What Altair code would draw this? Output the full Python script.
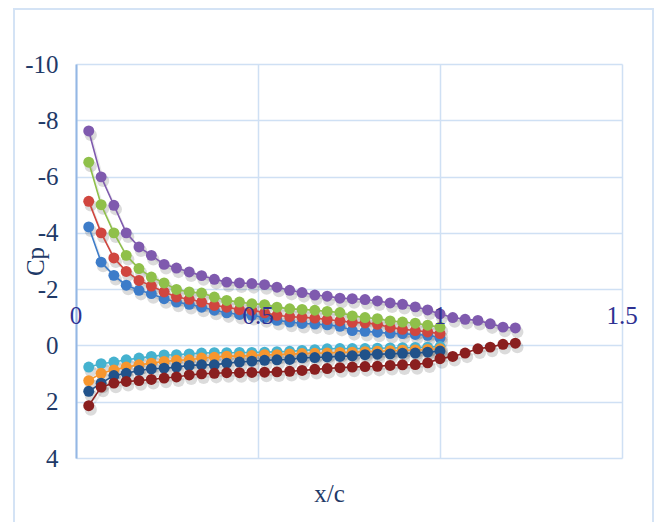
import altair as alt
import pandas as pd

# ---- data ----
x_pos = [0.035, 0.069, 0.104, 0.138, 0.173, 0.207, 0.242, 0.276, 0.311, 0.345,
         0.380, 0.414, 0.449, 0.483, 0.518, 0.552, 0.587, 0.621, 0.656, 0.690,
         0.725, 0.759, 0.794, 0.828, 0.863, 0.897, 0.932, 0.966, 1.000, 1.035,
         1.069, 1.104, 1.138, 1.173, 1.207]

cp_blue = [-4.21, -2.96, -2.49, -2.14, -1.96, -1.84, -1.66, -1.54, -1.46, -1.36,
           -1.25, -1.16, -1.10, -1.07, -0.99, -0.89, -0.83, -0.78, -0.76, -0.73,
           -0.68, -0.53, -0.50, -0.47, -0.43, -0.42, -0.39, -0.36, -0.27]
cp_red = [-5.12, -4.00, -3.11, -2.63, -2.31, -2.11, -1.90, -1.72, -1.64, -1.54,
          -1.42, -1.36, -1.27, -1.25, -1.16, -1.07, -1.02, -1.00, -0.97, -0.92,
          -0.87, -0.82, -0.80, -0.75, -0.64, -0.57, -0.53, -0.48, -0.42]
cp_green = [-6.51, -5.00, -4.00, -3.20, -2.73, -2.43, -2.22, -1.99, -1.90, -1.86,
            -1.72, -1.60, -1.54, -1.48, -1.45, -1.36, -1.30, -1.28, -1.25, -1.21,
            -1.17, -1.05, -0.99, -0.95, -0.87, -0.83, -0.79, -0.72, -0.65]
cp_purple = [-7.62, -5.99, -4.98, -4.00, -3.50, -3.20, -2.88, -2.75, -2.61, -2.48,
             -2.35, -2.25, -2.22, -2.20, -2.16, -2.07, -1.96, -1.88, -1.79, -1.75,
             -1.68, -1.66, -1.63, -1.58, -1.51, -1.46, -1.37, -1.26, -1.12, -0.99,
             -0.93, -0.89, -0.77, -0.65, -0.62]
cp_cyan = [0.77, 0.65, 0.59, 0.51, 0.45, 0.39, 0.34, 0.33, 0.30, 0.27,
           0.26, 0.26, 0.25, 0.25, 0.24, 0.22, 0.21, 0.18, 0.15, 0.12,
           0.11, 0.11, 0.11, 0.10, 0.09, 0.08, 0.07, 0.06, 0.04]
cp_orange = [1.25, 0.99, 0.87, 0.77, 0.69, 0.63, 0.57, 0.53, 0.51, 0.45,
             0.42, 0.38, 0.38, 0.36, 0.33, 0.33, 0.30, 0.29, 0.28, 0.27,
             0.25, 0.24, 0.22, 0.21, 0.19, 0.17, 0.16, 0.14, 0.12]
cp_navy = [1.63, 1.34, 1.07, 0.99, 0.89, 0.83, 0.81, 0.77, 0.71, 0.69,
           0.69, 0.63, 0.59, 0.56, 0.53, 0.51, 0.50, 0.44, 0.43, 0.41,
           0.39, 0.37, 0.33, 0.31, 0.30, 0.28, 0.27, 0.24, 0.20]
cp_maroon = [2.14, 1.48, 1.34, 1.28, 1.25, 1.21, 1.16, 1.12, 1.05, 1.01,
             0.99, 0.97, 0.97, 0.96, 0.95, 0.94, 0.92, 0.89, 0.85, 0.82,
             0.79, 0.77, 0.75, 0.74, 0.71, 0.69, 0.68, 0.62, 0.47, 0.39,
             0.27, 0.12, 0.06, -0.04, -0.08]

series_names = ["s1", "s2", "s3", "s4", "s5", "s6", "s7", "s8"]
series_values = [cp_blue, cp_red, cp_green, cp_purple, cp_cyan, cp_orange, cp_navy, cp_maroon]
series_colors = ["#3D7CC9", "#D0463F", "#8FC04A", "#7F5AAE",
                 "#45B2CF", "#F7962E", "#21528A", "#8A1F1F"]

x_ticks = [0, 0.5, 1, 1.5]
x_tick_labels = ["0", "0.5", "1", "1.5"]
y_ticks = [-10, -8, -6, -4, -2, 0, 2, 4]

rows = []
for k, (name, vals) in enumerate(zip(series_names, series_values)):
    for i, v in enumerate(vals):
        rows.append({"series": name, "x": x_pos[i], "cp": v, "ord": k * 100 + i})
df = pd.DataFrame(rows)
df_lab = pd.DataFrame({"x": x_ticks, "t": x_tick_labels})
df_frame = pd.DataFrame({"a": [0]})

FONT = "'Liberation Serif', 'Times New Roman', Times, serif"
x_scale = alt.Scale(domain=[0, 1.5], nice=False, zero=False)
y_scale = alt.Scale(domain=[-10, 4], reverse=True, nice=False, zero=False)
color = alt.Color("series:N", scale=alt.Scale(domain=series_names, range=series_colors), legend=None)

x_axis = alt.Axis(values=x_ticks, labels=False, ticks=False, domain=False, grid=True,
                  title="x/c", titleX=253, titleY=35, titleBaseline="middle")
x_enc = alt.X("x:Q", scale=x_scale, axis=x_axis)
y_enc = alt.Y("cp:Q", scale=y_scale,
              axis=alt.Axis(values=y_ticks, labelExpr="datum.value + ''", ticks=False,
                            labelPadding=18, domain=True, domainColor="#94B7E4", domainWidth=2,
                            title="Cp", titleX=-41, titleY=197, titleBaseline="middle",
                            titleAngle=270))

frame = alt.Chart(df_frame).mark_rect(fill="transparent", stroke="#D4E3F5", strokeWidth=2).encode(
    x=alt.value(-62), x2=alt.value(577), y=alt.value(-55), y2=alt.value(470))

line_shadow = alt.Chart(df).mark_line(color="#000000", opacity=0.08, strokeWidth=2,
                                      xOffset=2, yOffset=3).encode(
    x=x_enc, y=y_enc, detail="series:N")
pt_shadow = alt.Chart(df).mark_circle(color="#000000", opacity=0.14, size=150,
                                      xOffset=2, yOffset=4).encode(
    x=x_enc, y=y_enc, detail="series:N")
lines = alt.Chart(df).mark_line(strokeWidth=1.6).encode(
    x=x_enc, y=y_enc, color=color, order="ord:Q")
points = alt.Chart(df).mark_circle(size=120, opacity=1).encode(
    x=x_enc, y=y_enc, color=color, order="ord:Q")
labels = alt.Chart(df_lab).mark_text(font=FONT, fontSize=25, color="#2E3192",
                                     baseline="middle", align="center").encode(
    x=x_enc, y=alt.value(252), text="t:N")

chart = alt.layer(frame, line_shadow, pt_shadow, lines, points, labels).properties(
    width=546, height=394,
    autosize=alt.AutoSizeParams(type="none"),
    padding={"left": 68, "top": 56, "right": 32, "bottom": 64},
    background="white",
).configure_view(stroke=None).configure_axis(
    gridColor="#CFE0F4", gridWidth=1.5,
    labelFont=FONT, labelFontSize=25, labelColor="#1F3A68",
    titleFont=FONT, titleFontSize=25, titleColor="#1F3A68", titleFontWeight="normal",
)

chart.save("out.html", embed_options={"renderer": "svg", "actions": False})
